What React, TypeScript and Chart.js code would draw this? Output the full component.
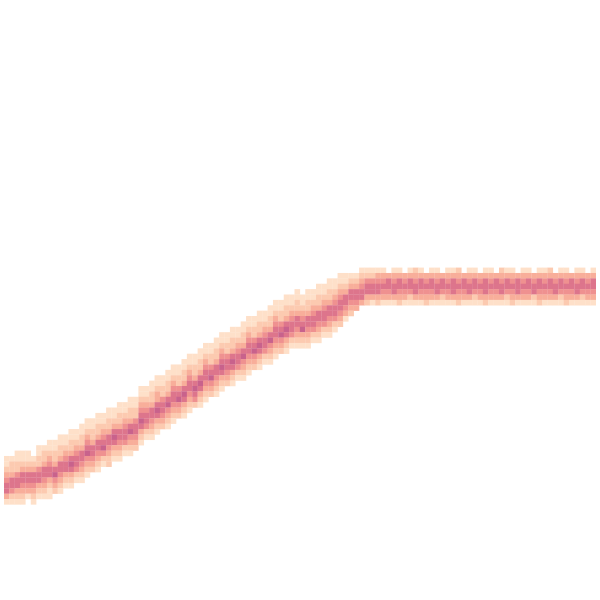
import React, { useEffect, useRef } from "react";
import { Chart, registerables } from "chart.js";

Chart.register(...registerables);

// Grid of 110 x 110 bins; for each column: first occupied row and the
// intensity level (0 = empty, 1..6 = light..dark) of the following rows.
const nBins = 110;

const colTop: number[] = [
  84, 84, 83, 83, 83, 83, 82, 82, 81, 81,
  80, 80, 79, 79, 78, 77, 77, 76, 76, 75,
  75, 74, 74, 73, 73, 71, 71, 70, 69, 69,
  68, 67, 67, 66, 65, 65, 64, 63, 63, 62,
  61, 61, 60, 60, 59, 58, 58, 57, 57, 56,
  55, 55, 54, 54, 53, 54, 53, 53, 52, 52,
  51, 51, 50, 50, 50, 49, 49, 49, 49, 49,
  49, 49, 49, 49, 49, 49, 49, 49, 49, 49,
  49, 49, 49, 49, 49, 49, 49, 49, 49, 49,
  49, 49, 49, 49, 49, 49, 49, 49, 49, 49,
  49, 49, 49, 49, 49, 49, 49, 49, 49, 49,
];

const colCells: string[] = [
  "112345531", "122355421", "1122455321", "1123554321", "112355431",
  "0123554321", "1122455321", "1223554321", "11234553211", "1122356432",
  "11223554321", "1123455321", "11223565321", "1123455421", "11223554321",
  "11234564321", "1122355432", "11223554321", "1123456421", "11223554322",
  "1123565321", "11223554321", "1123455421", "11223564321", "1122455432",
  "11234565321", "1123455421", "11223554321", "11233565321", "1122455432",
  "11223564321", "11234554321", "1122456432", "11223565321", "11234554321",
  "1122356542", "11223565321", "11234554321", "1122456432", "11223554321",
  "11234565321", "1122455432", "11223565321", "1123455421", "11223564321",
  "11234554321", "1122456432", "11223565321", "1123455421", "11223564321",
  "11234554321", "1122456432", "11223565321", "1123455421", "11223554321",
  "1123456321", "11223554321", "1123455421", "11223554321", "1123455421",
  "11223554321", "1123455421", "1123455432", "112355431", "12355432",
  "01235543", "1234553", "1245532", "1245531", "1345532",
  "1345431", "0355431", "1345531", "1355432", "0345431",
  "1355421", "2345531", "1355431", "0345432", "1355431",
  "1345531", "0355421", "1345431", "1355531", "2345432",
  "0355431", "1345531", "1355421", "0345431", "1355532",
  "1345431", "0355431", "2345531", "1355421", "1345432",
  "0355531", "1345431", "1355431", "0345521", "1355432",
  "1345431", "2355431", "0345531", "1355421", "1345432",
  "0355431", "1345531", "1355421", "0345431", "1355431",
];

const levelColors: string[] = [
  "rgba(0,0,0,0)",
  "#fee0c9",
  "#fccab0",
  "#f8ae9a",
  "#ef9190",
  "#dd758c",
  "#c8628c",
];

export default function App() {
  const canvasRef = useRef<HTMLCanvasElement | null>(null);

  useEffect(() => {
    const canvas = canvasRef.current;
    if (!canvas) return;
    const points: { x: number; y: number; v: number }[] = [];
    colCells.forEach((s, i) => {
      for (let k = 0; k < s.length; k++) {
        const v = Number(s[k]);
        if (v > 0) points.push({ x: i, y: colTop[i] + k, v });
      }
    });
    const cell = 600 / nBins;
    const radius = cell / (2 * Math.SQRT1_2) + 0.12;
    const chart = new Chart(canvas, {
      type: "scatter",
      data: {
        datasets: [
          {
            data: points as any,
            pointStyle: "rect",
            pointRadius: radius,
            pointHoverRadius: radius,
            pointBorderWidth: 0,
            borderWidth: 0,
            backgroundColor: points.map((p) => levelColors[p.v]),
          },
        ],
      },
      options: {
        animation: false,
        responsive: true,
        maintainAspectRatio: false,
        layout: { padding: 0 },
        events: [],
        plugins: { legend: { display: false }, tooltip: { enabled: false } },
        scales: {
          x: { type: "linear", min: -0.5, max: nBins - 0.5, display: false },
          y: { type: "linear", min: -0.5, max: nBins - 0.5, reverse: true, display: false },
        },
      },
    });
    return () => chart.destroy();
  }, []);

  return (
    <div style={{ position: "fixed", left: 0, top: 0, width: 600, height: 600, background: "#fff" }}>
      <canvas ref={canvasRef} />
    </div>
  );
}
